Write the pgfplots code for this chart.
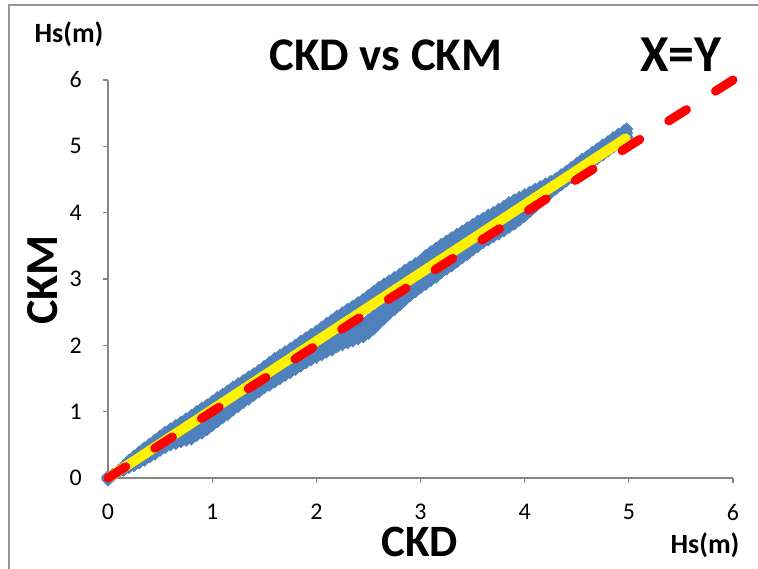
\documentclass[border=0pt]{standalone}
\usepackage{pgfplots}
\usepackage{pgfplotstable}
\pgfplotsset{compat=1.18}
\usepackage{fontspec}
\setmainfont{Carlito}
\definecolor{ckblue}{RGB}{79,129,189}
\definecolor{axisgrey}{RGB}{134,134,134}
\definecolor{bordergrey}{RGB}{150,150,150}
\pgfplotstableread{
x u1 u2 l1 l2
0.00 0.02 0.01 -0.03 -0.01
0.05 0.05 0.05 0.05 0.05
0.10 0.11 0.10 0.09 0.10
0.15 0.18 0.17 0.12 0.14
0.20 0.26 0.23 0.16 0.18
0.25 0.33 0.29 0.19 0.22
0.30 0.39 0.35 0.23 0.27
0.35 0.45 0.41 0.27 0.32
0.40 0.51 0.46 0.32 0.37
0.45 0.57 0.52 0.36 0.41
0.50 0.63 0.57 0.42 0.47
0.55 0.69 0.63 0.46 0.52
0.60 0.74 0.68 0.50 0.56
0.65 0.79 0.73 0.52 0.60
0.70 0.84 0.78 0.55 0.64
0.75 0.89 0.83 0.57 0.67
0.80 0.94 0.88 0.59 0.71
0.85 1.00 0.94 0.64 0.76
0.90 1.05 0.99 0.68 0.80
0.95 1.10 1.04 0.73 0.86
1.00 1.15 1.09 0.79 0.91
1.05 1.21 1.14 0.85 0.97
1.10 1.26 1.20 0.91 1.02
1.15 1.31 1.25 0.96 1.07
1.20 1.37 1.31 1.03 1.14
1.25 1.42 1.36 1.08 1.19
1.30 1.47 1.41 1.14 1.24
1.35 1.52 1.46 1.19 1.29
1.40 1.57 1.51 1.25 1.35
1.45 1.62 1.56 1.30 1.40
1.50 1.68 1.62 1.36 1.46
1.55 1.74 1.67 1.40 1.50
1.60 1.80 1.73 1.45 1.55
1.65 1.85 1.78 1.50 1.60
1.70 1.90 1.83 1.55 1.65
1.75 1.95 1.88 1.59 1.70
1.80 2.00 1.93 1.64 1.75
1.85 2.06 1.99 1.69 1.80
1.90 2.11 2.04 1.74 1.85
1.95 2.16 2.09 1.78 1.90
2.00 2.21 2.14 1.82 1.94
2.05 2.27 2.19 1.86 1.99
2.10 2.33 2.25 1.90 2.03
2.15 2.38 2.30 1.93 2.07
2.20 2.44 2.36 1.98 2.12
2.25 2.49 2.41 2.01 2.16
2.30 2.54 2.46 2.04 2.20
2.35 2.59 2.51 2.07 2.24
2.40 2.64 2.56 2.10 2.28
2.45 2.69 2.61 2.13 2.32
2.50 2.75 2.66 2.18 2.38
2.55 2.81 2.72 2.25 2.44
2.60 2.87 2.78 2.33 2.50
2.65 2.92 2.83 2.40 2.57
2.70 2.97 2.88 2.48 2.63
2.75 3.02 2.93 2.54 2.69
2.80 3.07 2.98 2.61 2.75
2.85 3.13 3.04 2.68 2.81
2.90 3.18 3.09 2.75 2.87
2.95 3.23 3.14 2.81 2.93
3.00 3.28 3.19 2.87 2.98
3.05 3.35 3.25 2.92 3.03
3.10 3.41 3.30 2.98 3.09
3.15 3.46 3.35 3.03 3.14
3.20 3.52 3.41 3.10 3.20
3.25 3.57 3.46 3.15 3.25
3.30 3.62 3.51 3.20 3.30
3.35 3.67 3.56 3.26 3.36
3.40 3.72 3.61 3.32 3.41
3.45 3.77 3.66 3.37 3.46
3.50 3.82 3.71 3.44 3.52
3.55 3.87 3.76 3.49 3.57
3.60 3.91 3.81 3.55 3.63
3.65 3.96 3.86 3.59 3.67
3.70 4.00 3.91 3.64 3.72
3.75 4.05 3.96 3.68 3.77
3.80 4.09 4.00 3.73 3.82
3.85 4.15 4.06 3.78 3.87
3.90 4.19 4.10 3.83 3.92
3.95 4.23 4.15 3.89 3.98
4.00 4.27 4.20 3.95 4.04
4.05 4.31 4.24 4.02 4.10
4.10 4.35 4.29 4.09 4.16
4.15 4.39 4.33 4.16 4.22
4.20 4.43 4.38 4.24 4.29
4.25 4.47 4.43 4.30 4.34
4.30 4.51 4.47 4.36 4.40
4.35 4.57 4.53 4.42 4.45
4.40 4.62 4.58 4.48 4.51
4.45 4.68 4.63 4.53 4.56
4.50 4.74 4.69 4.60 4.62
4.55 4.80 4.74 4.65 4.67
4.60 4.85 4.80 4.71 4.72
4.65 4.91 4.85 4.76 4.78
4.70 4.96 4.90 4.82 4.83
4.75 5.02 4.95 4.87 4.88
4.80 5.07 5.01 4.93 4.94
4.85 5.13 5.06 4.99 5.00
4.90 5.18 5.11 5.04 5.05
4.95 5.23 5.16 5.09 5.10
4.98 5.26 5.20 5.13 5.14
}\band
\pgfplotstableread{
x y
0.80 0.65
0.85 0.70
0.90 0.74
0.95 0.80
1.00 0.85
2.05 1.93
2.10 1.97
2.15 2.00
2.20 2.05
2.25 2.09
2.30 2.12
2.35 2.16
2.40 2.19
2.45 2.23
2.50 2.28
2.55 2.35
2.60 2.42
2.65 2.49
2.70 2.56
}\bulge
\begin{document}
\begin{tikzpicture}
\useasboundingbox (-108bp,-91bp) rectangle (650bp,478bp);
\draw[bordergrey, line width=1.2bp] (-99bp,-95bp) -- (-99bp,473bp) -- (655bp,473bp);
\begin{axis}[
  at={(0,0)}, anchor=south west,
  scale only axis, width=625bp, height=398bp,
  xmin=0, xmax=6, ymin=0, ymax=6,
  axis x line=bottom, axis y line=left,
  axis line style={-, draw=axisgrey, line width=1.3bp},
  xtick={0,1,2,3,4,5,6}, ytick={0,1,2,3,4,5,6},
  tick align=outside, major tick length=5bp,
  tick style={draw=axisgrey, line width=1.3bp},
  /pgf/number format/assume math mode=true,
  ticklabel style={font=\fontsize{24}{26}\selectfont, text=black},
  xticklabel style={anchor=north, inner sep=0pt, yshift=-21bp},
  yticklabel style={anchor=east, inner sep=0pt, xshift=-21bp},
  clip=false,
]
\addplot[only marks, mark=square*, mark size=4.5bp, mark options={rotate=45, fill=ckblue, draw=ckblue}] table[x=x, y=u1] {\band};
\addplot[only marks, mark=square*, mark size=4.5bp, mark options={rotate=45, fill=ckblue, draw=ckblue}] table[x=x, y=u2] {\band};
\addplot[only marks, mark=square*, mark size=4.5bp, mark options={rotate=45, fill=ckblue, draw=ckblue}] table[x=x, y=l1] {\band};
\addplot[only marks, mark=square*, mark size=4.5bp, mark options={rotate=45, fill=ckblue, draw=ckblue}] table[x=x, y=l2] {\band};
\addplot[only marks, mark=square*, mark size=4.5bp, mark options={rotate=45, fill=ckblue, draw=ckblue}] table[x=x, y=y] {\bulge};
\end{axis}
\begin{axis}[
  at={(0,0)}, anchor=south west,
  scale only axis, width=625bp, height=398bp,
  xmin=0, xmax=6, ymin=0, ymax=6,
  hide axis, clip=false,
]
\addplot[yellow, line width=10bp, line cap=round] coordinates {(0.02,0.02) (4.97,5.12)};
\addplot[red, line width=9bp, line cap=round, dash pattern=on 21bp off 34.4bp] coordinates {(0,0) (6,6)};
\end{axis}
\node[font=\bfseries\fontsize{47}{50}\selectfont, inner sep=0pt, anchor=base] at (278bp,407bp) {CKD vs CKM};
\node[font=\bfseries\fontsize{52}{54}\selectfont, inner sep=0pt, anchor=base] at (573bp,406bp) {X=Y};
\node[font=\bfseries\fontsize{28}{30}\selectfont, inner sep=0pt, anchor=base] at (-39bp,435bp) {Hs(m)};
\node[font=\bfseries\fontsize{28}{30}\selectfont, inner sep=0pt, anchor=base] at (597bp,-75bp) {Hs(m)};
\node[font=\bfseries\fontsize{45}{48}\selectfont, inner sep=0pt, anchor=base] at (312bp,-78bp) {CKD};
\node[font=\bfseries\fontsize{46}{48}\selectfont, inner sep=0pt, anchor=base, rotate=90] at (-50bp,198bp) {CKM};
\end{tikzpicture}
\end{document}
